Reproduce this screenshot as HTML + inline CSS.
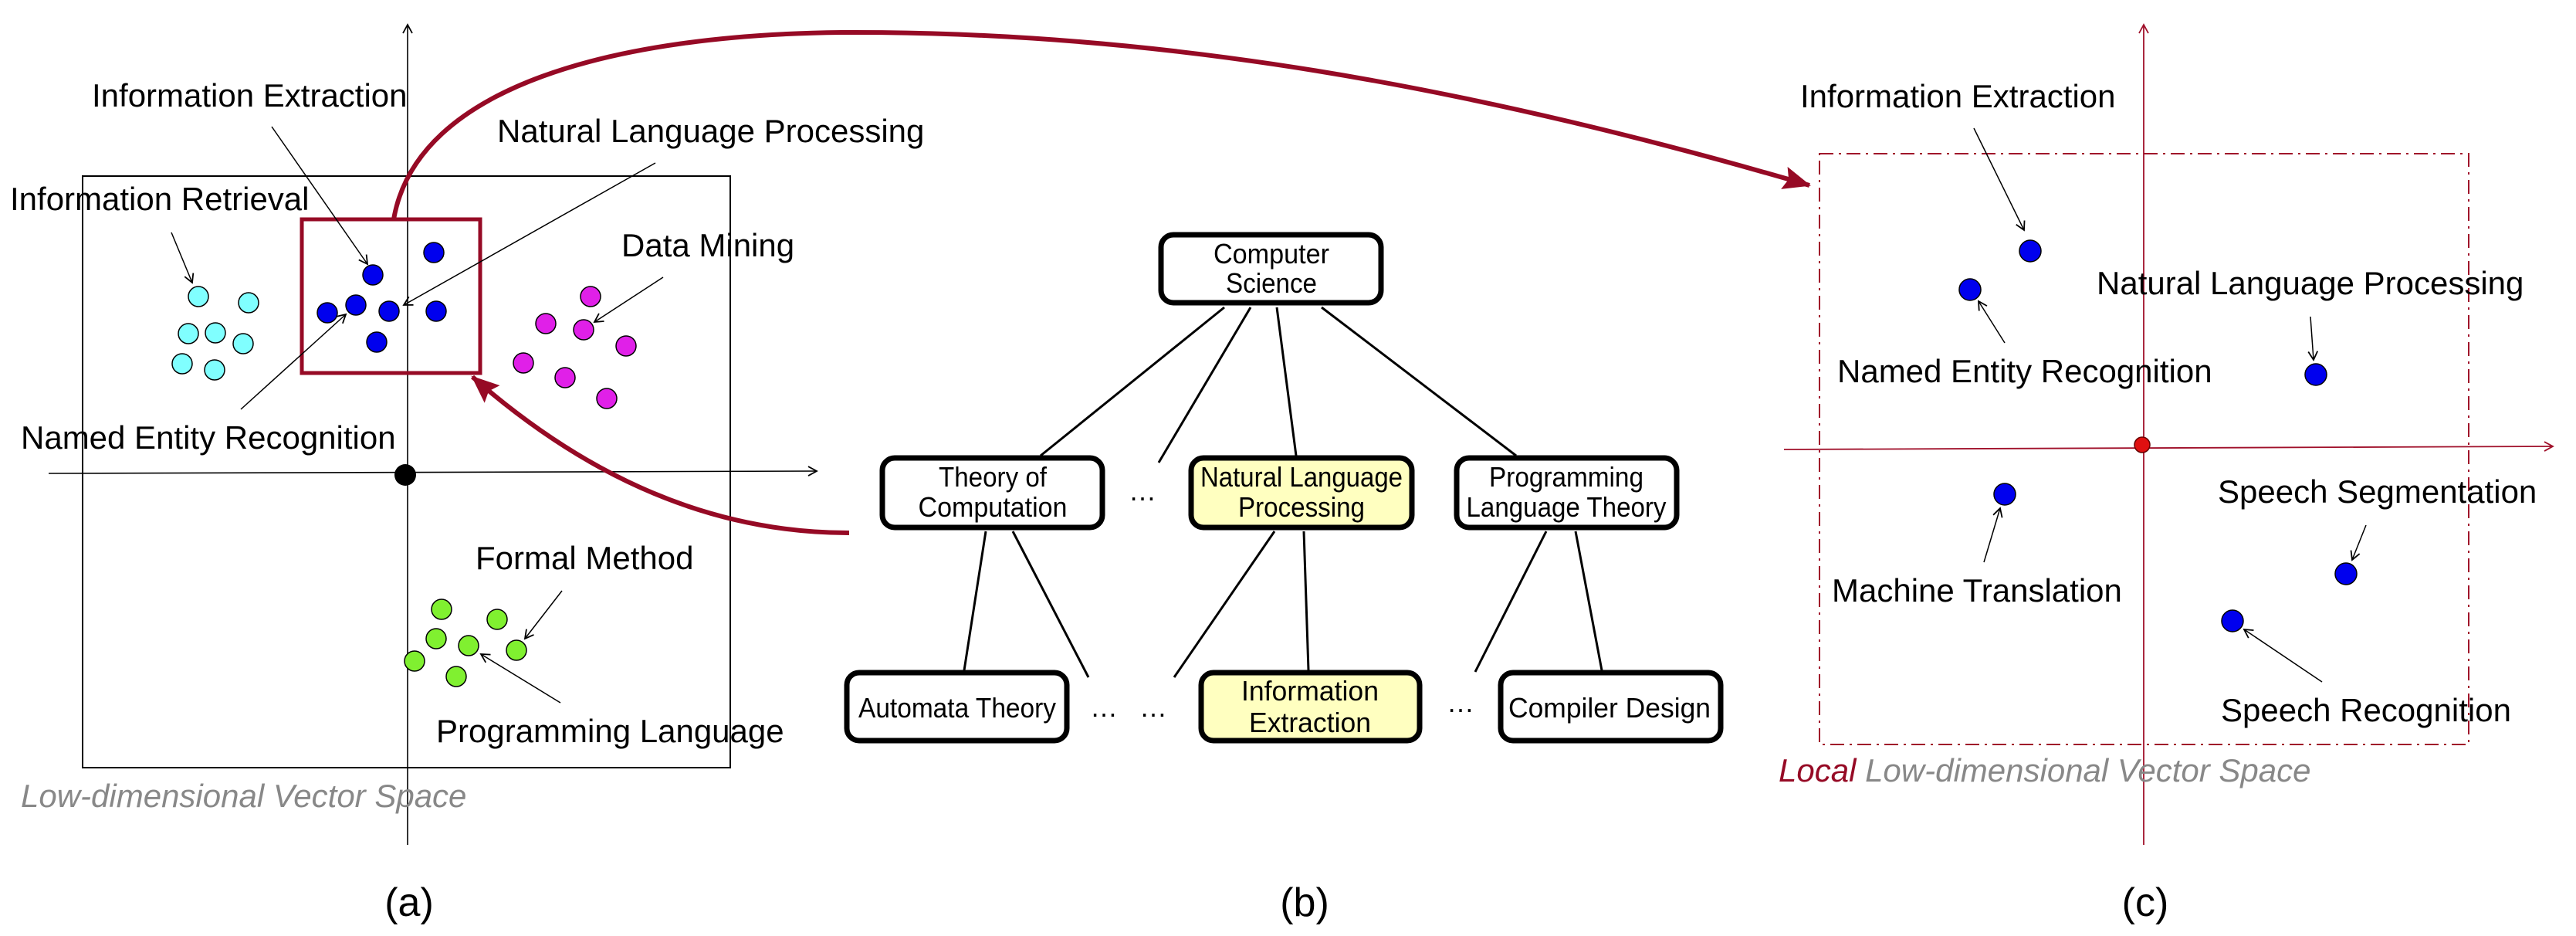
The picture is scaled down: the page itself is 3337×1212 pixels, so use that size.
<!DOCTYPE html>
<html><head><meta charset="utf-8"><style>
html,body{margin:0;padding:0;background:#fff}
svg{display:block}
text{font-family:"Liberation Sans",sans-serif}
</style></head><body>
<svg width="3337" height="1212" viewBox="0 0 3337 1212" xmlns="http://www.w3.org/2000/svg">
<defs>
<marker id="oa" markerWidth="14" markerHeight="14" refX="12" refY="7" orient="auto" markerUnits="userSpaceOnUse">
<polyline points="1,1 12,7 1,13" fill="none" stroke="#000" stroke-width="1.8"/></marker>
<marker id="oar" markerWidth="14" markerHeight="14" refX="12" refY="7" orient="auto" markerUnits="userSpaceOnUse">
<polyline points="1,1 12,7 1,13" fill="none" stroke="#a0102a" stroke-width="1.8"/></marker>
<marker id="ra" markerWidth="40" markerHeight="30" refX="34" refY="15" orient="auto" markerUnits="userSpaceOnUse">
<polygon points="0,0 36,15 0,30 6,15" fill="#960a25"/></marker>
</defs>

<!-- Panel (a) -->
<rect x="107" y="228" width="839" height="766" fill="none" stroke="#000" stroke-width="2"/>
<line x1="528" y1="1094" x2="528" y2="32" stroke="#000" stroke-width="1.6" marker-end="url(#oa)"/>
<line x1="63" y1="613" x2="1058" y2="610" stroke="#000" stroke-width="1.6" marker-end="url(#oa)"/>
<circle cx="525" cy="615" r="14" fill="#000"/>
<g stroke="#000" stroke-width="1.5" fill="#0000ee">
<circle cx="483" cy="356" r="13"/><circle cx="562" cy="327" r="13"/><circle cx="424" cy="405" r="13"/><circle cx="461" cy="395" r="13"/><circle cx="504" cy="403" r="13"/><circle cx="565" cy="403" r="13"/><circle cx="488" cy="443" r="13"/>
</g>
<g stroke="#000" stroke-width="1.5" fill="#80ffff">
<circle cx="257" cy="384" r="13"/><circle cx="322" cy="392" r="13"/><circle cx="244" cy="432" r="13"/><circle cx="279" cy="431" r="13"/><circle cx="315" cy="445" r="13"/><circle cx="236" cy="471" r="13"/><circle cx="278" cy="479" r="13"/>
</g>
<g stroke="#000" stroke-width="1.5" fill="#e020e8">
<circle cx="765" cy="384" r="13"/><circle cx="707" cy="419" r="13"/><circle cx="756" cy="427" r="13"/><circle cx="811" cy="448" r="13"/><circle cx="678" cy="470" r="13"/><circle cx="732" cy="489" r="13"/><circle cx="786" cy="516" r="13"/>
</g>
<g stroke="#000" stroke-width="1.5" fill="#80f030">
<circle cx="572" cy="789" r="13"/><circle cx="644" cy="802" r="13"/><circle cx="565" cy="827" r="13"/><circle cx="607" cy="836" r="13"/><circle cx="669" cy="842" r="13"/><circle cx="537" cy="856" r="13"/><circle cx="591" cy="876" r="13"/>
</g>
<rect x="391" y="284" width="231" height="199" fill="none" stroke="#960a25" stroke-width="5"/>
<g stroke="#000" stroke-width="1.5" marker-end="url(#oa)">
<line x1="352" y1="164" x2="476" y2="342"/>
<line x1="849" y1="211" x2="523" y2="395"/>
<line x1="222" y1="301" x2="249" y2="366"/>
<line x1="312" y1="530" x2="448" y2="407"/>
<line x1="859" y1="359" x2="770" y2="417"/>
<line x1="728" y1="765" x2="680" y2="827"/>
<line x1="726" y1="910" x2="623" y2="847"/>
</g>
<g font-size="42" fill="#000">
<text x="119" y="138">Information Extraction</text>
<text x="644" y="184">Natural Language Processing</text>
<text x="13" y="272">Information Retrieval</text>
<text x="805" y="332">Data Mining</text>
<text x="27" y="581">Named Entity Recognition</text>
<text x="616" y="737">Formal Method</text>
<text x="565" y="961">Programming Language</text>
</g>
<text x="27" y="1045" font-size="42" font-style="italic" fill="#888">Low-dimensional Vector Space</text>
<text x="530" y="1186" font-size="52" text-anchor="middle">(a)</text>

<!-- red curves -->
<path d="M510,284 C540,110 800,45 1090,42 C1500,40 1900,110 2344,240" fill="none" stroke="#960a25" stroke-width="6" marker-end="url(#ra)"/>
<path d="M1100,690 C900,690 740,600 612,488" fill="none" stroke="#960a25" stroke-width="6" marker-end="url(#ra)"/>

<!-- Panel (b) -->
<g stroke="#000" stroke-width="3">
<line x1="1586" y1="398" x2="1348" y2="590"/>
<line x1="1620" y1="398" x2="1501" y2="599"/>
<line x1="1654" y1="398" x2="1679" y2="590"/>
<line x1="1712" y1="398" x2="1964" y2="590"/>
<line x1="1277" y1="688" x2="1249" y2="868"/>
<line x1="1312" y1="688" x2="1410" y2="877"/>
<line x1="1651" y1="688" x2="1521" y2="877"/>
<line x1="1689" y1="688" x2="1695" y2="868"/>
<line x1="2003" y1="688" x2="1911" y2="870"/>
<line x1="2041" y1="688" x2="2075" y2="868"/>
</g>
<g stroke="#000" stroke-width="7">
<rect x="1504" y="304" width="285" height="88" rx="16" fill="#fff"/>
<rect x="1143" y="593" width="285" height="90" rx="16" fill="#fff"/>
<rect x="1543" y="593" width="286" height="90" rx="16" fill="#ffffc0"/>
<rect x="1887" y="593" width="285" height="90" rx="16" fill="#fff"/>
<rect x="1097" y="871" width="285" height="88" rx="16" fill="#fff"/>
<rect x="1556" y="871" width="283" height="88" rx="16" fill="#ffffc0"/>
<rect x="1944" y="871" width="285" height="88" rx="16" fill="#fff"/>
</g>
<g font-size="36" text-anchor="middle" fill="#000" lengthAdjust="spacingAndGlyphs">
<text x="1647" y="341" textLength="150" lengthAdjust="spacingAndGlyphs">Computer</text>
<text x="1647" y="379" textLength="118" lengthAdjust="spacingAndGlyphs">Science</text>
<text x="1286" y="630" textLength="140" lengthAdjust="spacingAndGlyphs">Theory of</text>
<text x="1286" y="669" textLength="193" lengthAdjust="spacingAndGlyphs">Computation</text>
<text x="1686" y="630" textLength="262" lengthAdjust="spacingAndGlyphs">Natural Language</text>
<text x="1686" y="669" textLength="164" lengthAdjust="spacingAndGlyphs">Processing</text>
<text x="2029" y="630" textLength="200" lengthAdjust="spacingAndGlyphs">Programming</text>
<text x="2029" y="669" textLength="259" lengthAdjust="spacingAndGlyphs">Language Theory</text>
<text x="1240" y="929" textLength="256" lengthAdjust="spacingAndGlyphs">Automata Theory</text>
<text x="1697" y="907" textLength="178" lengthAdjust="spacingAndGlyphs">Information</text>
<text x="1697" y="948" textLength="158" lengthAdjust="spacingAndGlyphs">Extraction</text>
<text x="2085" y="929" textLength="262" lengthAdjust="spacingAndGlyphs">Compiler Design</text>
<text x="1480" y="648">…</text>
<text x="1430" y="928">…</text>
<text x="1494" y="928">…</text>
<text x="1892" y="922">…</text>
</g>
<text x="1690" y="1186" font-size="52" text-anchor="middle">(b)</text>

<!-- Panel (c) -->
<rect x="2357" y="199" width="841" height="765" fill="none" stroke="#a0102a" stroke-width="2" stroke-dasharray="18,7,3,7"/>
<line x1="2777" y1="1094" x2="2777" y2="32" stroke="#a0102a" stroke-width="1.8" marker-end="url(#oar)"/>
<line x1="2311" y1="582" x2="3307" y2="578" stroke="#a0102a" stroke-width="1.8" marker-end="url(#oar)"/>
<circle cx="2775" cy="576" r="10" fill="#e01010" stroke="#600" stroke-width="1.5"/>
<g stroke="#000" stroke-width="1.5" fill="#0000ee">
<circle cx="2630" cy="325" r="14"/><circle cx="2552" cy="375" r="14"/><circle cx="3000" cy="485" r="14"/><circle cx="2597" cy="640" r="14"/><circle cx="3039" cy="743" r="14"/><circle cx="2892" cy="804" r="14"/>
</g>
<g stroke="#000" stroke-width="1.5" marker-end="url(#oa)">
<line x1="2557" y1="166" x2="2622" y2="298"/>
<line x1="2597" y1="444" x2="2563" y2="390"/>
<line x1="2993" y1="410" x2="2997" y2="466"/>
<line x1="2570" y1="728" x2="2591" y2="658"/>
<line x1="3065" y1="680" x2="3047" y2="725"/>
<line x1="3008" y1="883" x2="2907" y2="815"/>
</g>
<g font-size="42" fill="#000">
<text x="2332" y="139">Information Extraction</text>
<text x="2716" y="381">Natural Language Processing</text>
<text x="2380" y="495">Named Entity Recognition</text>
<text x="2873" y="651">Speech Segmentation</text>
<text x="2373" y="779">Machine Translation</text>
<text x="2877" y="934">Speech Recognition</text>
</g>
<text x="2304" y="1012" font-size="42" font-style="italic" fill="#888"><tspan fill="#960a25">Local</tspan> Low-dimensional Vector Space</text>
<text x="2779" y="1186" font-size="52" text-anchor="middle">(c)</text>
</svg>
</body></html>
